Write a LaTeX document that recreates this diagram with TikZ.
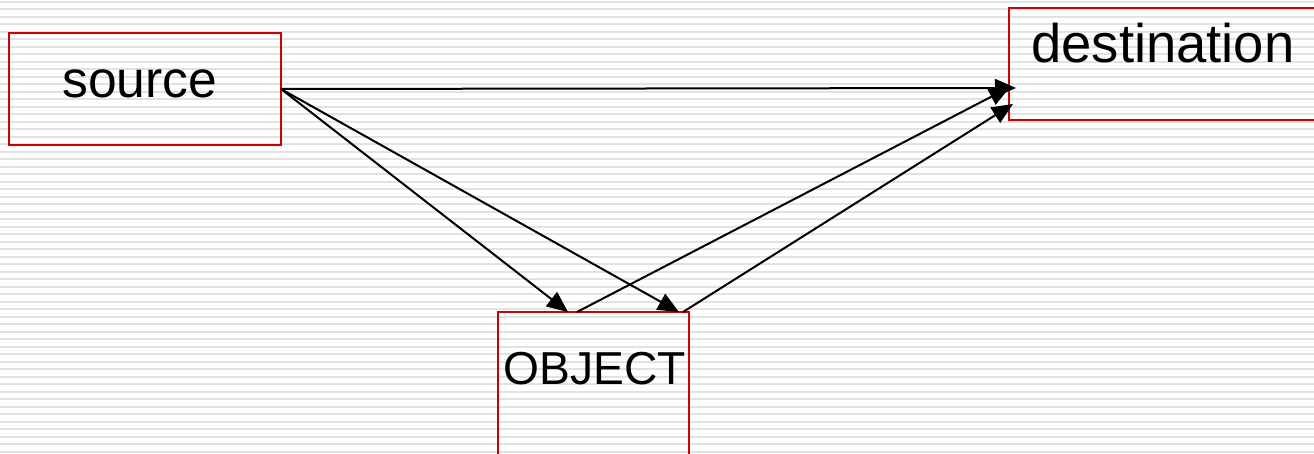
\documentclass[tikz,border=0pt]{standalone}
\usepackage{fontspec}
\setmainfont{Liberation Sans}
\usetikzlibrary{arrows.meta}
\definecolor{boxred}{HTML}{CC0000}
\definecolor{stripe}{HTML}{E2E2E2}
\tikzset{
  px/.style={x=0.5pt,y=-0.5pt},
  box/.style={draw=boxred, line width=1pt, inner sep=0pt, outer sep=0pt},
  lbl/.style={anchor=base west, inner sep=0pt, text=black},
  conn/.style={line width=1pt, -{Triangle[length=10.5pt,width=9pt]}, shorten >=0pt}
}
\begin{document}
\begin{tikzpicture}[px]
\useasboundingbox (0,0) rectangle (1314,454);
\begin{scope}
\clip (0,0) rectangle (1314,454);
\fill[white] (0,0) rectangle (1314,454);
\foreach \i in {0,...,60}{
  \draw[stripe, line width=1pt] (0,{2+7.5*\i}) -- (1314,{2+7.5*\i});
}
\node[box, minimum width=136pt, minimum height=56pt] (src) at (145,89) {};
\node[box, minimum width=155pt, minimum height=56pt] (dst) at (1164,64) {};
\node[box, minimum width=95.5pt, minimum height=75pt] (obj) at (593.5,387) {};
\end{scope}
\node[lbl, font=\fontsize{25.8pt}{30pt}\selectfont] (srct) at (62,98) {source};
\node[lbl, font=\fontsize{27.2pt}{32pt}\selectfont] (dstt) at (1031,63) {destination};
\node[lbl, font=\fontsize{23.1pt}{28pt}\selectfont] (objt) at (503,385) {OBJECT};
\coordinate (d1) at (1016,88);
\coordinate (d2) at (1010,87);
\coordinate (d3) at (1013,104);
\coordinate (o1) at (568,312);
\coordinate (o2) at (679,312);
\coordinate (os1) at (577,312);
\coordinate (os2) at (683,312);
\draw[conn] (src.east) -- (d1);
\draw[conn] (src.east) -- (o1);
\draw[conn] (src.east) -- (o2);
\draw[conn] (os1) -- (d2);
\draw[conn] (os2) -- (d3);
\end{tikzpicture}
\end{document}
